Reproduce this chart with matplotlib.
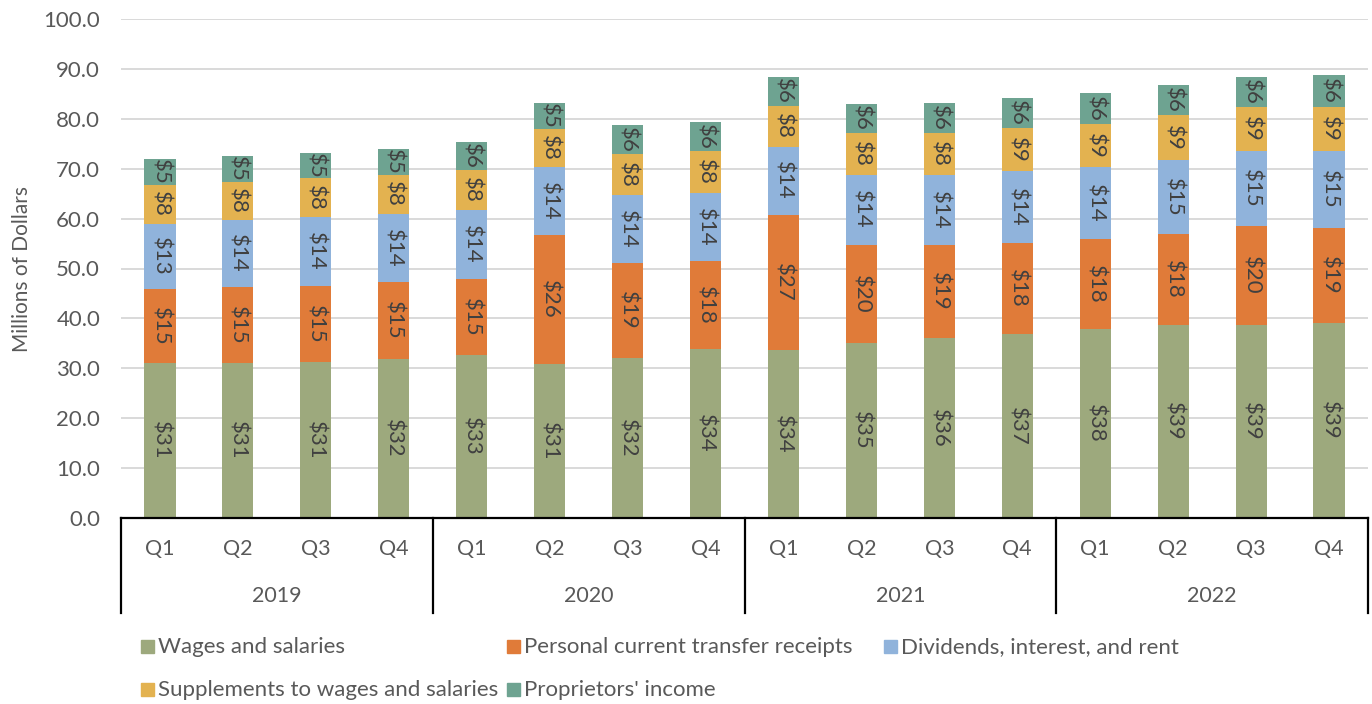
import numpy as np
import matplotlib.pyplot as plt
from matplotlib.patches import Rectangle

plt.rcParams['font.family'] = ['Lato', 'DejaVu Sans']

# quarters and years
quarters = ['Q1', 'Q2', 'Q3', 'Q4'] * 4
years = ['2019', '2020', '2021', '2022']

# values (millions of dollars)
wages = [31.0, 31.0, 31.3, 31.9, 32.6, 30.8, 32.1, 33.9, 33.6, 35.0, 36.1, 36.9, 37.8, 38.6, 38.6, 39.1]
transfer = [14.9, 15.2, 15.2, 15.3, 15.3, 25.9, 19.0, 17.6, 27.2, 19.8, 18.6, 18.3, 18.1, 18.4, 19.9, 19.1]
dividends = [13.1, 13.6, 13.8, 13.8, 13.8, 13.6, 13.6, 13.7, 13.6, 14.0, 14.0, 14.3, 14.4, 14.7, 15.0, 15.3]
supplements = [7.7, 7.6, 7.8, 7.8, 8.0, 7.7, 8.2, 8.4, 8.2, 8.4, 8.4, 8.6, 8.6, 9.0, 8.8, 8.8]
proprietors = [5.2, 5.1, 5.1, 5.2, 5.6, 5.1, 5.8, 5.7, 5.8, 5.8, 6.0, 6.0, 6.2, 6.0, 6.0, 6.4]

series = [wages, transfer, dividends, supplements, proprietors]
names = ['Wages and salaries', 'Personal current transfer receipts',
         'Dividends, interest, and rent', 'Supplements to wages and salaries',
         "Proprietors' income"]
colors = ['#9DA97D', '#E07B39', '#90B3DB', '#E3B250', '#6EA391']

txt = '#595959'

fig = plt.figure(figsize=(13.72, 7.04), dpi=100)
ax = fig.add_axes([121/1372, 1 - 518/704, 1247/1372, 499/704])

x = np.arange(len(wages))
bottom = np.zeros(len(x))
for vals, c in zip(series, colors):
    vals = np.array(vals)
    ax.bar(x, vals, 0.4, bottom=bottom, color=c, zorder=3)
    for xi, b, v in zip(x, bottom, vals):
        ax.text(xi, b + v / 2, '$%.0f' % v, rotation=270, ha='center', va='center',
                fontsize=16, color='#404040', zorder=4)
    bottom += vals

ax.set_xlim(-0.5, 15.5)
ax.set_ylim(0, 100)
ax.set_yticks(np.arange(0, 101, 10))
ax.set_yticklabels(['%.1f' % v for v in np.arange(0, 101, 10)])
ax.yaxis.grid(True, color='#D9D9D9', lw=1.4, zorder=0)
ax.tick_params(axis='y', length=0, labelsize=16, labelcolor=txt, pad=15)
ax.set_xticks([])
for s in ['left', 'right', 'top']:
    ax.spines[s].set_visible(False)
ax.spines['bottom'].set_color('black')
ax.spines['bottom'].set_linewidth(1.6)
ax.spines['bottom'].set_zorder(5)
ax.set_ylabel('Millions of Dollars', fontsize=15, color=txt, labelpad=8)

# two-level category axis
trans = ax.get_xaxis_transform()
for xi, q in zip(x, quarters):
    ax.text(xi, -0.062, q, transform=trans, ha='center', va='center', fontsize=15.5, color=txt)
for i, y in enumerate(years):
    ax.text(i * 4 + 1.5, -0.157, y, transform=trans, ha='center', va='center', fontsize=15.5, color=txt)
for i in range(5):
    ax.plot([i * 4 - 0.5] * 2, [0, -0.19], transform=trans, color='black', lw=1.6, clip_on=False)

# legend laid out like the original
spots = [(141, 647), (507, 647), (884, 647), (141, 690), (507, 690)]
for (px, py), n, c in zip(spots, names, colors):
    fig.patches.append(Rectangle((px / 1372, 1 - (py + 6) / 704), 13 / 1372, 13 / 704,
                                 color=c, transform=fig.transFigure))
    fig.text((px + 17) / 1372, 1 - py / 704, n, ha='left', va='center', fontsize=16, color=txt)

fig.savefig('out.png', dpi=100)
